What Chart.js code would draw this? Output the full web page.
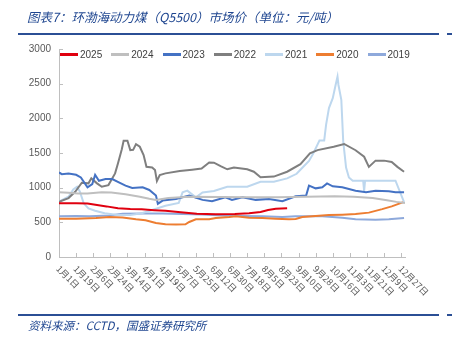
<!DOCTYPE html>
<html>
<head>
<meta charset="utf-8">
<script src="https://cdn.jsdelivr.net/npm/chart.js@4.4.0/dist/chart.umd.min.js"></script>
<style>
html, body { margin:0; padding:0; background:#fff; }
#wrap { position:relative; width:452px; height:341px; overflow:hidden; font-family:"Liberation Sans", Arial, "Noto Sans CJK SC", sans-serif; }
#title { position:absolute; left:27px; top:7px; font-size:12.5px; font-style:italic; color:#1F4690; font-family:"Noto Sans CJK SC"; white-space:nowrap; z-index:2; }
.rule { position:absolute; height:2px; background:#2B4F95; z-index:2; }
#src { position:absolute; left:28px; top:317px; font-size:11.5px; font-style:italic; color:#1F4690; font-family:"Noto Sans CJK SC"; white-space:nowrap; z-index:2; }
#legend { position:absolute; left:60px; top:49px; display:flex; font-size:10px; color:#404040; z-index:2; }
.item { display:flex; align-items:center; margin-right:9px; }
.swatch { width:18px; height:2.5px; margin-right:2px; }
canvas { position:absolute; left:0; top:0; }
</style>
</head>
<body>
<div id="wrap">
  <div id="title">图表7：环渤海动力煤（Q5500）市场价（单位：元/吨）</div>
  <div class="rule" style="left:18px;top:33px;width:421px;"></div>
  <div class="rule" style="left:447px;top:33px;width:5px;"></div>
  <canvas id="coalChart" width="452" height="341"></canvas>
  <div id="legend"></div>
  <div class="rule" style="left:18px;top:314px;width:421px;"></div>
  <div class="rule" style="left:447px;top:314px;width:5px;"></div>
  <div id="src">资料来源：CCTD，国盛证券研究所</div>
</div>
<script>
// day of year (0 = 1月1日) and price
const days2025 = [0, 18, 30, 40, 50, 62, 75, 87, 100, 112, 128, 145, 165, 185, 200, 212, 220, 228, 240];
const vals2025 = [775, 775, 770, 750, 730, 702, 692, 687, 675, 667, 645, 625, 615, 620, 630, 650, 677, 695, 702];

const days2024 = [0, 10, 20, 30, 45, 55, 70, 85, 95, 102, 115, 137, 170, 200, 230, 260, 290, 310, 330, 345, 355, 364];
const vals2024 = [935, 925, 915, 915, 935, 930, 905, 870, 840, 824, 850, 870, 865, 860, 860, 870, 875, 868, 850, 820, 795, 780];

const days2023 = [0, 3, 10, 18, 23, 30, 35, 38, 42, 49, 56, 63, 70, 77, 88, 95, 102, 104, 109, 123, 137, 151, 161, 175, 182, 193, 207, 221, 235, 249, 260, 263, 270, 277, 282, 288, 298, 312, 323, 333, 347, 354, 363];
const vals2023 = [1219, 1195, 1205, 1186, 1148, 1005, 1052, 1186, 1100, 1124, 1124, 1076, 1029, 995, 1005, 967, 886, 767, 814, 838, 886, 824, 805, 862, 824, 862, 824, 838, 805, 876, 886, 1029, 990, 1005, 1062, 1019, 1005, 957, 933, 957, 948, 933, 933];

const days2022 = [0, 10, 17, 24, 31, 34, 40, 45, 52, 59, 62, 66, 68, 72, 75, 78, 81, 85, 89, 92, 98, 101, 103, 106, 112, 127, 140, 150, 158, 163, 170, 177, 184, 198, 205, 212, 226, 240, 254, 264, 272, 289, 300, 312, 321, 326, 333, 342, 350, 356, 363];
const vals2022 = [797, 850, 941, 1071, 1062, 1134, 1062, 1013, 1037, 1206, 1350, 1550, 1676, 1676, 1542, 1545, 1628, 1590, 1470, 1301, 1292, 1254, 1095, 1182, 1206, 1240, 1260, 1275, 1362, 1360, 1310, 1265, 1290, 1265, 1230, 1150, 1160, 1230, 1340, 1494, 1542, 1590, 1630, 1540, 1446, 1300, 1390, 1390, 1370, 1300, 1230];

const days2021 = [0, 10, 15, 19, 22, 26, 31, 38, 48, 62, 75, 87, 98, 112, 126, 130, 135, 144, 151, 163, 177, 198, 212, 226, 240, 250, 257, 263, 267, 274, 279, 281, 284, 288, 291, 293, 294, 297, 299, 302, 305, 309, 320, 321, 322, 354, 363];
const vals2021 = [797, 869, 975, 1013, 941, 774, 702, 667, 630, 605, 605, 630, 677, 740, 780, 933, 957, 860, 930, 951, 1013, 1013, 1085, 1085, 1134, 1200, 1302, 1386, 1481, 1681, 1681, 1910, 2148, 2291, 2481, 2600, 2481, 2267, 1671, 1290, 1148, 1100, 1100, 950, 1100, 1100, 790];

const days2020 = [0, 18, 39, 53, 67, 81, 91, 102, 112, 123, 133, 137, 144, 158, 165, 179, 186, 200, 214, 228, 242, 249, 256, 270, 284, 298, 312, 326, 340, 350, 363];
const vals2020 = [552, 552, 562, 576, 570, 543, 529, 490, 471, 467, 471, 505, 543, 543, 562, 576, 586, 567, 562, 552, 543, 548, 576, 590, 605, 610, 619, 640, 690, 730, 795];

const days2019 = [0, 18, 32, 53, 67, 88, 109, 130, 151, 172, 193, 214, 235, 249, 277, 298, 312, 333, 347, 363];
const vals2019 = [586, 590, 586, 600, 624, 629, 629, 619, 614, 600, 590, 586, 576, 586, 586, 567, 543, 538, 543, 562];

const seriesNames = ['2025', '2024', '2023', '2022', '2021', '2020', '2019'];
const xTickLabels = ['1月1日', '1月19日', '2月6日', '2月24日', '3月14日', '4月1日', '4月19日', '5月7日', '5月25日', '6月12日', '6月30日',
  '7月18日', '8月5日', '8月23日', '9月10日', '9月28日', '10月16日', '11月3日', '11月21日', '12月9日', '12月27日'];

const seriesDays = [days2025, days2024, days2023, days2022, days2021, days2020, days2019];
const seriesVals = [vals2025, vals2024, vals2023, vals2022, vals2021, vals2020, vals2019];
const seriesColors = ['#E0000F', '#BFBFBF', '#4472C4', '#7F7F7F', '#BDD7EE', '#ED7D31', '#8EA9DB'];

const datasets = seriesNames.map((name, k) => ({
  label: name,
  data: seriesDays[k].map((d, i) => ({ x: d, y: seriesVals[k][i] })),
  borderColor: seriesColors[k],
  backgroundColor: seriesColors[k],
  borderWidth: 2,
  pointRadius: 0,
  tension: 0,
  fill: false
}));

// inward tick marks and 45deg date labels like the excel chart
const axisDecor = {
  id: 'axisDecor',
  afterDraw(chart) {
    const ctx = chart.ctx, xs = chart.scales.x, ys = chart.scales.y;
    const base = ys.getPixelForValue(0), left = chart.chartArea.left;
    ctx.save();
    ctx.strokeStyle = '#BFBFBF';
    ctx.lineWidth = 1;
    ctx.beginPath();
    xs.ticks.forEach(t => {
      const px = Math.round(xs.getPixelForValue(t.value)) + 0.5;
      ctx.moveTo(px, base); ctx.lineTo(px, base - 4);
    });
    ys.ticks.forEach(t => {
      const py = Math.round(ys.getPixelForValue(t.value)) + 0.5;
      ctx.moveTo(left, py); ctx.lineTo(left + 4, py);
    });
    ctx.stroke();
    ctx.fillStyle = '#595959';
    ctx.font = '9px "Noto Sans CJK SC"';
    ctx.textAlign = 'left';
    ctx.textBaseline = 'middle';
    xs.ticks.forEach((t, i) => {
      const px = xs.getPixelForValue(t.value);
      ctx.save();
      ctx.translate(px - 1, base + 10);
      ctx.rotate(Math.PI / 4);
      ctx.fillText(xTickLabels[i], 0, 0);
      ctx.restore();
    });
    ctx.restore();
  }
};

new Chart(document.getElementById('coalChart'), {
  type: 'line',
  data: { datasets: datasets },
  options: {
    responsive: false,
    animation: false,
    layout: { padding: { top: 49, right: 47, bottom: 84, left: 0 } },
    plugins: { legend: { display: false }, tooltip: { enabled: false } },
    scales: {
      x: {
        type: 'linear',
        min: 0,
        max: 364,
        ticks: { stepSize: 18, includeBounds: false, display: false },
        grid: { display: false, drawTicks: false },
        border: { color: '#BFBFBF', width: 1 },
        afterFit(scale) { scale.height = 0; }
      },
      y: {
        min: 0,
        max: 3000,
        ticks: {
          stepSize: 500,
          color: '#595959',
          padding: 8,
          font: { size: 10, family: '"Liberation Sans", Arial' },
          callback: v => String(v)
        },
        grid: { display: false, drawTicks: false },
        border: { color: '#BFBFBF', width: 1 },
        afterFit(scale) { scale.width = 59; }
      }
    }
  },
  plugins: [axisDecor]
});

// html legend built from the same series
const legend = document.getElementById('legend');
seriesNames.forEach((name, k) => {
  const item = document.createElement('div');
  item.className = 'item';
  item.innerHTML = '<span class="swatch" style="background:' + seriesColors[k] + '"></span><span>' + name + '</span>';
  legend.appendChild(item);
});
</script>
</body>
</html>
